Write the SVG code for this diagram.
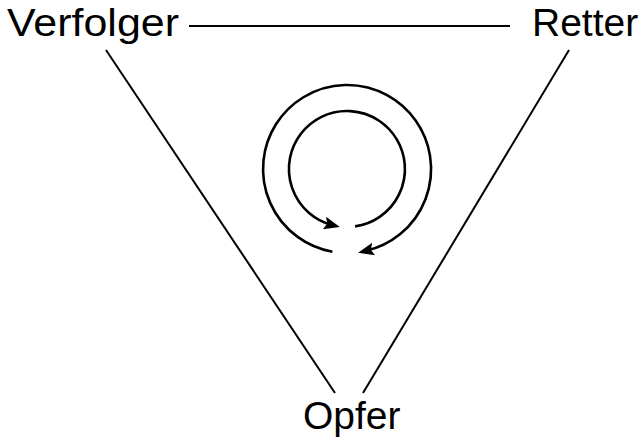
<svg xmlns="http://www.w3.org/2000/svg" width="641" height="442" viewBox="0 0 641 442">
<style>
.lbl{font-family:"Liberation Sans",Arial,sans-serif;font-size:39px;fill:#000}
.ln{stroke:#000;stroke-width:2;fill:none}
.arc{stroke:#000;stroke-width:2.6;fill:none;marker-end:url(#ah)}
</style>
<defs>
<marker id="ah" markerUnits="userSpaceOnUse" viewBox="0 0 16 13" refX="8" refY="6.5" markerWidth="16" markerHeight="13" orient="auto">
<path d="M0,0 L16,6.5 L0,13 L3,6.5 z" fill="#000"/>
</marker>
</defs>
<g id="connectors">
<line class="ln" x1="189" y1="26" x2="510" y2="26"/>
<line class="ln" x1="106" y1="50" x2="335" y2="393"/>
<line class="ln" x1="569" y1="50" x2="363" y2="393"/>
<path class="arc" d="M332.4,251.7 A84,84 0 1 1 365.9,250.85"/>
<path class="arc" d="M355.1,226.4 A58,58 0 1 0 332.1,225.05"/>
</g>
<g id="verfolger"><text class="lbl" x="7" y="36" textLength="172" lengthAdjust="spacingAndGlyphs">Verfolger</text></g>
<g id="retter"><text class="lbl" x="532" y="36">Retter</text></g>
<g id="opfer"><text class="lbl" x="303" y="429">Opfer</text></g>
</svg>
